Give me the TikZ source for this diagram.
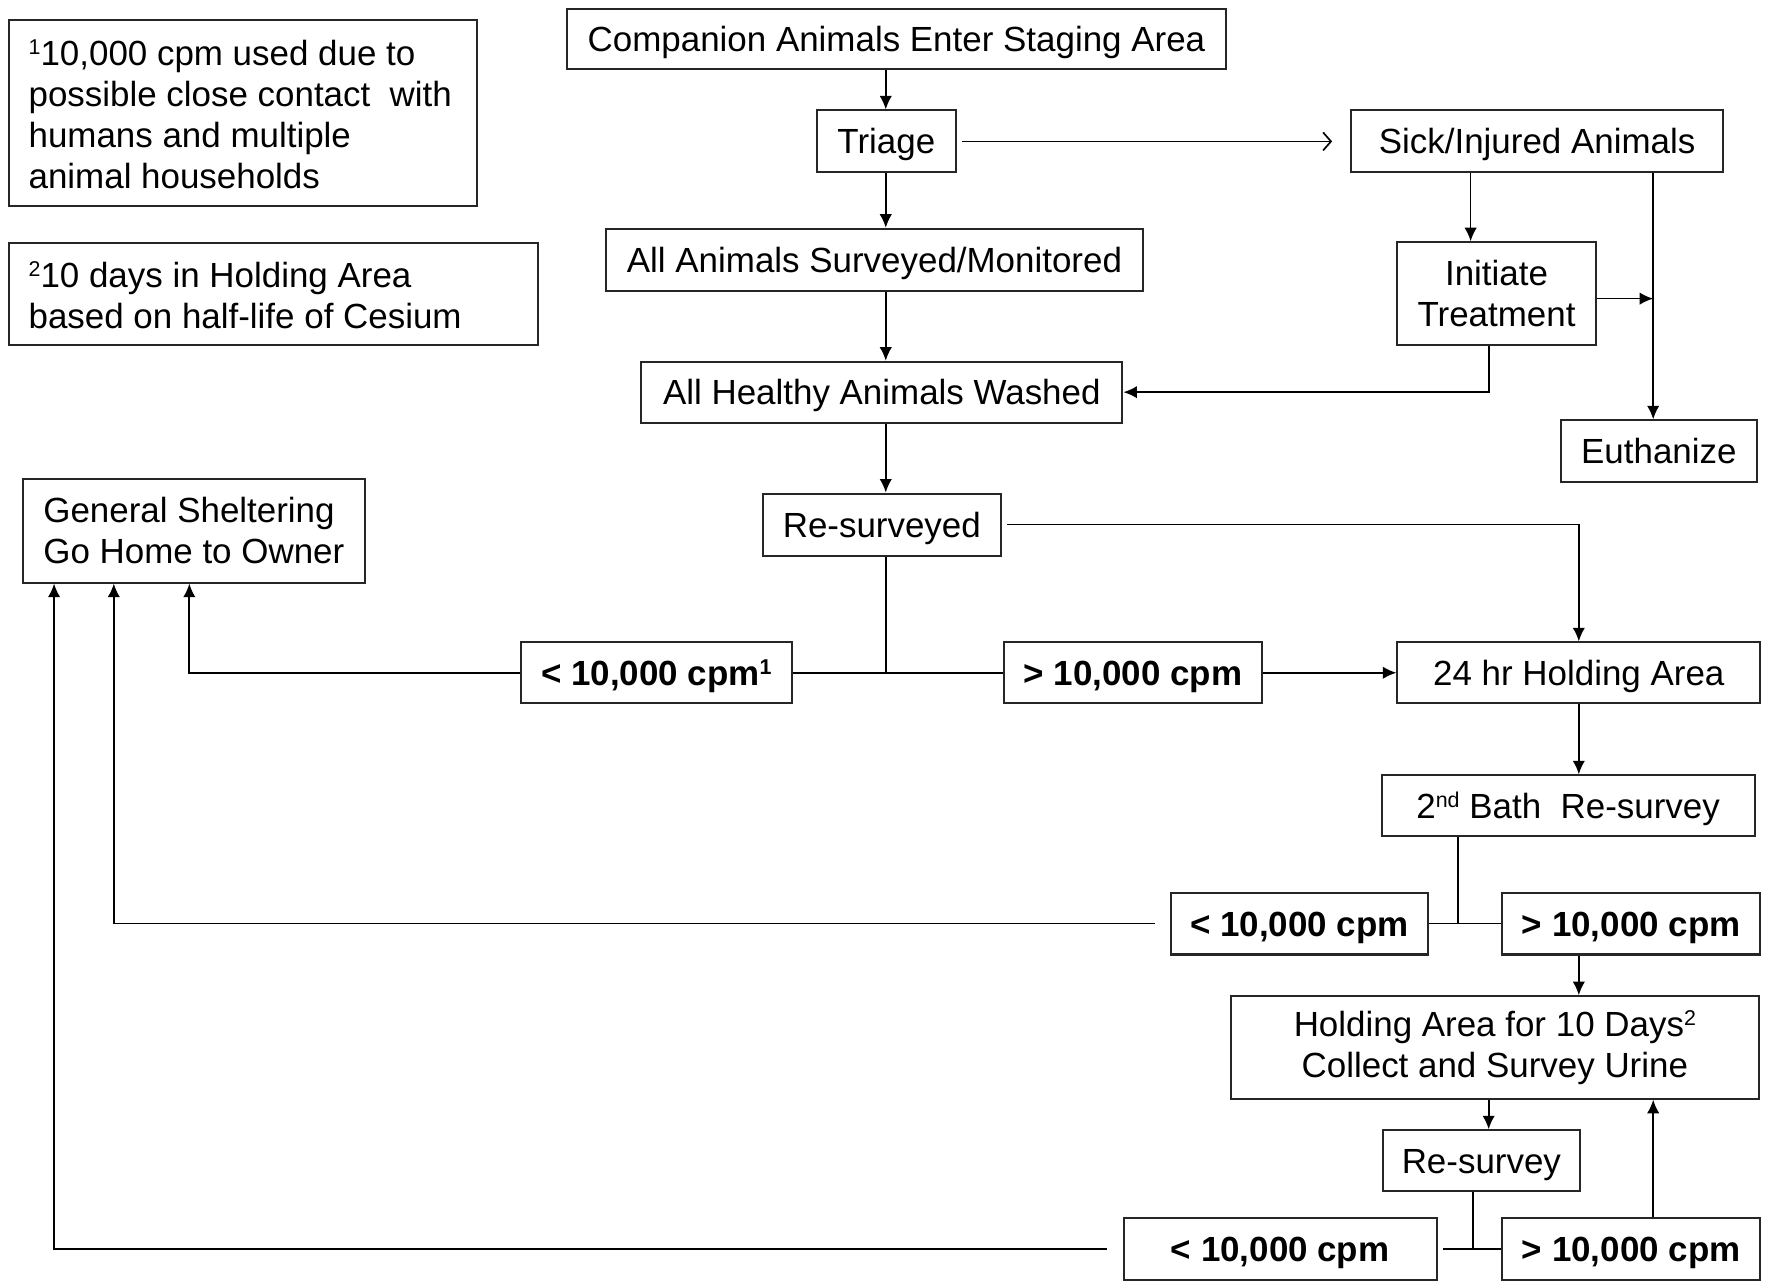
\documentclass[tikz,border=0pt]{standalone}
\usepackage{fontspec}
\setmainfont{Liberation Sans}
\usetikzlibrary{arrows.meta}
\newcommand\mysup[1]{\raisebox{0.3em}{\fontsize{9.5}{9.5}\selectfont #1}}
\begin{document}
\begin{tikzpicture}[x=0.5pt,y=-0.5pt,
  every node/.style={font=\fontsize{15.5}{18.25}\selectfont},
  box/.style={draw=black!85, line width=0.9pt, rectangle, inner sep=0pt, align=center},
  one/.style={text height=11.1pt, text depth=0pt},
  lbl/.style={box, one, font=\fontsize{15.5}{18.25}\selectfont\bfseries},
  arr/.style={line width=0.75pt, -{Latex[length=6pt,width=5.5pt]}},
  openarr/.style={line width=0.75pt, -{Straight Barb[length=3.5pt,width=8pt]}},
  conn/.style={line width=0.75pt}]
\useasboundingbox (0,0) rectangle (1568,1139);
\fill[white] (0,0) rectangle (1568,1139);

% notes
\node[box, minimum width=207.5pt, minimum height=82.5pt] (note1) at (215.5,100.5) {};
\node[anchor=west, align=left, inner sep=0pt] (note1t) at (25,101.5)
  {\mysup{1}10,000 cpm used due to\\possible close contact\ \ with\\humans and multiple\\animal households};
\node[box, minimum width=234.5pt, minimum height=45pt] (note2) at (242.5,261) {};
\node[anchor=west, align=left, inner sep=0pt] (note2t) at (25,262)
  {\mysup{2}10 days in Holding Area\\based on half-life of Cesium};

% main boxes
\node[box, one, minimum width=292.5pt, minimum height=26.5pt] (comp) at (795.5,34.5) {Companion Animals Enter Staging Area};
\node[box, one, minimum width=61.5pt, minimum height=27.5pt] (triage) at (786.5,125.5) {Triage};
\node[box, one, minimum width=165pt, minimum height=27.5pt] (sick) at (1364,125.5) {Sick/Injured Animals};
\node[box, one, minimum width=238pt, minimum height=27.5pt] (surv) at (776,230.5) {All Animals Surveyed/Monitored};
\node[box, minimum width=88pt, minimum height=45.5pt] (init) at (1328,260.5) {Initiate\\Treatment};
\node[box, one, minimum width=213.5pt, minimum height=27pt] (wash) at (782.5,348) {All Healthy Animals Washed};
\node[box, one, minimum width=87pt, minimum height=27.5pt] (euth) at (1472,400.5) {Euthanize};
\node[box, minimum width=152pt, minimum height=46pt, align=left] (gen) at (172,471) {General Sheltering\\Go Home to Owner};
\node[box, one, minimum width=105.5pt, minimum height=27.5pt] (resurv) at (782.5,465.5) {Re-surveyed};
\node[lbl, minimum width=120.5pt, minimum height=27pt] (lt1) at (582.5,597) {< 10,000 cpm\mysup{1}};
\node[lbl, minimum width=114.5pt, minimum height=27pt] (gt1) at (1005.5,597) {> 10,000 cpm};
\node[box, one, minimum width=161pt, minimum height=27pt] (hold24) at (1401,597) {24 hr Holding Area};
\node[box, one, minimum width=165.5pt, minimum height=27pt] (bath) at (1391.5,715) {2\mysup{nd} Bath\ \ Re-survey};
\node[lbl, minimum width=114pt, minimum height=27.5pt] (lt2) at (1153,819.5) {< 10,000 cpm};
\node[lbl, minimum width=114.5pt, minimum height=27.5pt] (gt2) at (1447.5,819.5) {> 10,000 cpm};
\node[box, minimum width=234.5pt, minimum height=45.5pt] (hold10) at (1326.5,929.5) {Holding Area for 10 Days\mysup{2}\\Collect and Survey Urine};
\node[box, one, minimum width=87.5pt, minimum height=27pt] (resurvey) at (1314.5,1030) {Re-survey};
\node[lbl, minimum width=139pt, minimum height=27.5pt] (lt3) at (1136,1108.5) {< 10,000 cpm};
\node[lbl, minimum width=114.5pt, minimum height=27.5pt] (gt3) at (1447.5,1108.5) {> 10,000 cpm};

% x positions of connectors
\coordinate (xm) at (786,0);
\coordinate (xa) at (1305,0);
\coordinate (xb) at (1467,0);
\coordinate (xc) at (1321,0);
\coordinate (xd) at (1294,0);
\coordinate (xe) at (1307,0);
\coordinate (xh) at (1401,0);
\coordinate (xg1) at (168,0);
\coordinate (xg2) at (101,0);
\coordinate (xg3) at (48,0);

% connectors
\draw[arr] (xm |- comp.south) -- (xm |- triage.north);
\draw[openarr] ([xshift=2.5pt]triage.east) -- ([xshift=-8pt]sick.west);
\draw[arr] (xm |- triage.south) -- (xm |- surv.north);
\draw[arr] (xa |- sick.south) -- (xa |- init.north);
\draw[arr] (xb |- sick.south) -- (xb |- euth.north);
\draw[arr] ([yshift=-2.25pt]init.east) -- ([yshift=-2.25pt]xb |- init.east);
\draw[arr] (xc |- init.south) -- (xc |- wash.east) -- (wash.east);
\draw[arr] (xm |- surv.south) -- (xm |- wash.north);
\draw[arr] (xm |- wash.south) -- (xm |- resurv.north);
\draw[arr] ([xshift=2.5pt]resurv.east) -| (xh |- hold24.north);
\draw[conn] (xm |- resurv.south) -- (xm |- lt1.east);
\draw[conn] (lt1.east) -- (gt1.west);
\draw[arr] (lt1.west) -| (xg1 |- gen.south);
\draw[arr] (gt1.east) -- (hold24.west);
\draw[arr] (xh |- hold24.south) -- (xh |- bath.north);
\draw[conn] (xd |- bath.south) -- (xd |- lt2.east);
\draw[conn] (lt2.east) -- (gt2.west);
\draw[arr] ([xshift=-6.5pt]lt2.west) -| (xg2 |- gen.south);
\draw[arr] (xh |- gt2.south) -- (xh |- hold10.north);
\draw[arr] (xc |- hold10.south) -- (xc |- resurvey.north);
\draw[conn] (xe |- resurvey.south) -- (xe |- lt3.east);
\draw[conn] ([xshift=2.5pt]lt3.east) -- (gt3.west);
\draw[arr] ([xshift=-7pt]lt3.west) -| (xg3 |- gen.south);
\draw[arr] (xb |- gt3.north) -- (xb |- hold10.south);
\end{tikzpicture}
\end{document}
